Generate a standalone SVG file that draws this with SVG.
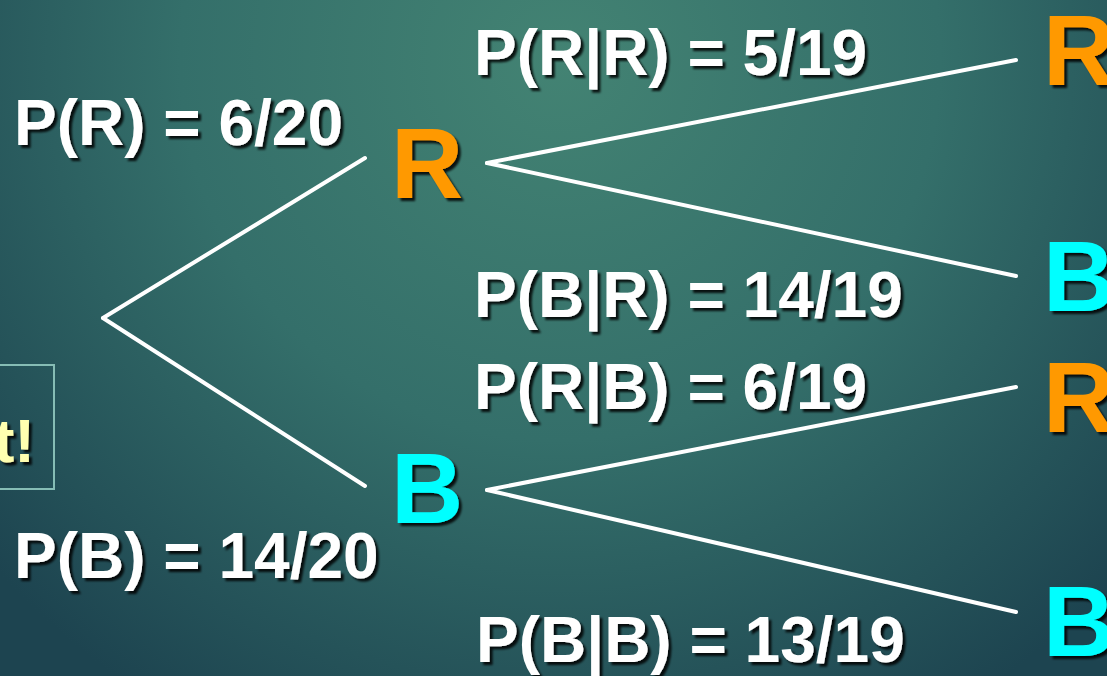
<svg xmlns="http://www.w3.org/2000/svg" width="1107" height="676" viewBox="0 0 1107 676">
<defs>
<radialGradient id="bg" cx="560" cy="60" r="760" gradientUnits="userSpaceOnUse">
<stop offset="0" stop-color="#438373"/>
<stop offset="0.5" stop-color="#346f6a"/>
<stop offset="1" stop-color="#1d4450"/>
</radialGradient>
<filter id="sh" x="-10%" y="-20%" width="130%" height="150%">
<feDropShadow dx="3" dy="3" stdDeviation="1" flood-color="#000" flood-opacity="0.85"/>
</filter>
</defs>
<style>
.lbl{font-family:"Liberation Sans",Arial,sans-serif;font-weight:bold;font-size:64px;fill:#fff;filter:url(#sh)}
.big{font-family:"Liberation Sans",Arial,sans-serif;font-weight:bold;font-size:100px;filter:url(#sh)}
.r{fill:#ff9900}
.b{fill:#00ffff}
.edge{stroke:#fff;stroke-width:4;fill:none;stroke-linecap:round}
</style>
<rect width="1107" height="676" fill="url(#bg)"/>
<g id="note">
<rect x="-10" y="365" width="64" height="124" fill="none" stroke="#86bdb5" stroke-width="2"/>
<text x="35" y="462" text-anchor="end" font-family="'Liberation Sans Narrow','Liberation Sans',sans-serif" font-weight="bold" font-size="62" fill="#ffffb0" filter="url(#sh)">t!</text>
</g>
<g id="connectors">
<line class="edge" x1="103" y1="318" x2="365" y2="158"/>
<line class="edge" x1="103" y1="318" x2="365" y2="486"/>
<line class="edge" x1="487" y1="163" x2="1016" y2="60"/>
<line class="edge" x1="487" y1="163" x2="1016" y2="276"/>
<line class="edge" x1="487" y1="490" x2="1016" y2="387"/>
<line class="edge" x1="487" y1="490" x2="1016" y2="612"/>
</g>
<g id="labels">
<text class="lbl" x="14" y="145">P(R) = 6/20</text>
<text class="lbl" x="14" y="578">P(B) = 14/20</text>
<text class="lbl" x="474" y="75">P(R|R) = 5/19</text>
<text class="lbl" x="474" y="317">P(B|R) = 14/19</text>
<text class="lbl" x="474" y="409">P(R|B) = 6/19</text>
<text class="lbl" x="476" y="662">P(B|B) = 13/19</text>
</g>
<g id="node-R1"><text class="big r" x="391" y="198">R</text></g>
<g id="node-B1"><text class="big b" x="391" y="523">B</text></g>
<g id="node-RR"><text class="big r" x="1043" y="85" font-size="88">R</text></g>
<g id="node-RB"><text class="big b" x="1043" y="311" font-size="88">B</text></g>
<g id="node-BR"><text class="big r" x="1043" y="432" font-size="88">R</text></g>
<g id="node-BB"><text class="big b" x="1043" y="656" font-size="88">B</text></g>
</svg>
